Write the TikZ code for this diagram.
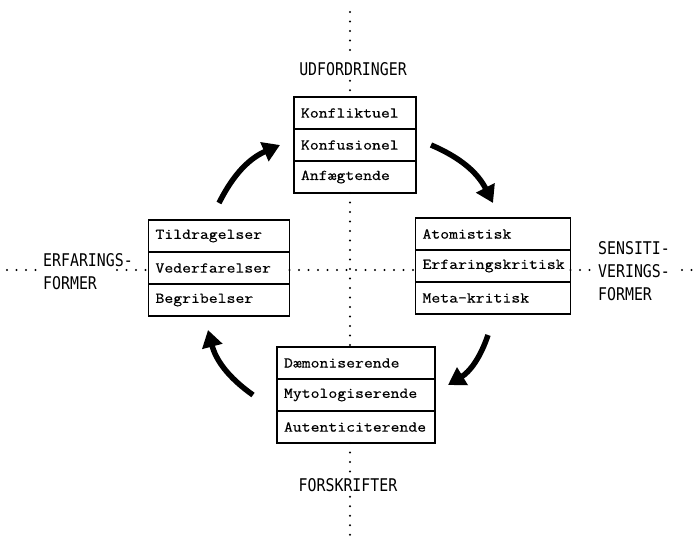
\documentclass[tikz,border=0pt]{standalone}
\usepackage{fontspec}
\usetikzlibrary{positioning, arrows.meta}
\newfontfamily\boxfont[FakeStretch=1.15, FakeBold=0.6]{Latin Modern Mono}
\newfontfamily\labfont[FakeStretch=0.85]{DejaVu Sans Mono}
\tikzstyle{cell}=[draw, line width=1.3pt, outer sep=0pt, minimum height=32pt, inner xsep=7pt, inner ysep=0pt, align=left, font=\boxfont\fontsize{15}{18}\selectfont]
\tikzstyle{heading}=[inner xsep=2pt, inner ysep=5pt, align=left, font=\labfont\fontsize{17.5}{23}\selectfont]
\tikzstyle{axis}=[line width=2.2pt, line cap=round, dash pattern=on 0pt off 9.5pt]
\tikzstyle{turn}=[line width=5.5pt, -{Triangle[length=17pt, width=20pt]}]

\begin{document}
\begin{tikzpicture}[x=1pt, y=-1pt]
    \useasboundingbox (0,0) rectangle (698,541);
    \coordinate (ntop) at (350,12);
    \coordinate (nbot) at (350,536);
    \coordinate (wend) at (7,270);
    \coordinate (eend) at (697,270);
    % the four boxes
    \node [cell, text width=108pt] (top1) at (355,113) {Konfliktuel};
    \node [cell, text width=108pt, below=0pt of top1] (top2) {Konfusionel};
    \node [cell, text width=108pt, below=0pt of top2] (top3) {Anfægtende};
    \node [cell, text width=127pt] (left1) at (219,236) {Tildragelser};
    \node [cell, text width=127pt, below=0pt of left1] (left2) {Vederfarelser};
    \node [cell, text width=127pt, below=0pt of left2] (left3) {Begribelser};
    \node [cell, text width=141pt] (right1) at (493,234) {Atomistisk};
    \node [cell, text width=141pt, below=0pt of right1] (right2) {Erfaringskritisk};
    \node [cell, text width=141pt, below=0pt of right2] (right3) {Meta-kritisk};
    \node [cell, text width=144pt] (bot1) at (356,363) {Dæmoniserende};
    \node [cell, text width=144pt, below=0pt of bot1] (bot2) {Mytologiserende};
    \node [cell, text width=144pt, below=0pt of bot2] (bot3) {Autenticiterende};
    % axis labels
    \node [heading] (udf) at (353,69) {UDFORDRINGER};
    \node [heading] (fsk) at (348,485) {FORSKRIFTER};
    \node [heading, anchor=west] (erf) at (41,271.5) {ERFARINGS-\\FORMER};
    \node [heading, anchor=west] (sns) at (596,271.5) {SENSITI-\\VERINGS-\\FORMER};
    % dotted axes
    \draw [axis] (ntop) -- (udf.north -| ntop);
    \draw [axis] (udf.south -| ntop) -- (top1.north -| ntop);
    \draw [axis] (top3.south -| ntop) -- (bot1.north -| ntop);
    \draw [axis] (bot3.south -| ntop) -- (fsk.north -| ntop);
    \draw [axis] (fsk.south -| ntop) -- (nbot);
    \draw [axis] (wend) -- (erf.west |- wend);
    \path (erf.east |- wend) ++(-18,0) coordinate (erfgap);
    \draw [axis] (erfgap) -- (left2.west |- wend);
    \draw [axis] (left2.east |- wend) -- (right2.west |- wend);
    \draw [axis] (right2.east |- wend) -- (sns.west |- wend);
    \path (sns.east |- wend) ++(10,0) coordinate (snsgap);
    \draw [axis] (snsgap) -- (eend);
    % cycle arrows
    \draw [turn] ([yshift=17pt]left1.north) to [bend left=20] ([xshift=-14pt]top2.west);
    \draw [turn] ([xshift=15pt]top2.east) to [bend left=20] ([yshift=15pt]right1.north);
    \draw [turn] ([shift={(-5pt,-21pt)}]right3.south) to [bend left=20] ([shift={(13pt,10pt)}]bot2.east);
    \draw [turn] ([xshift=-24pt]bot2.west) to [bend left=20] ([shift={(-11pt,-14pt)}]left3.south);
\end{tikzpicture}
\end{document}
